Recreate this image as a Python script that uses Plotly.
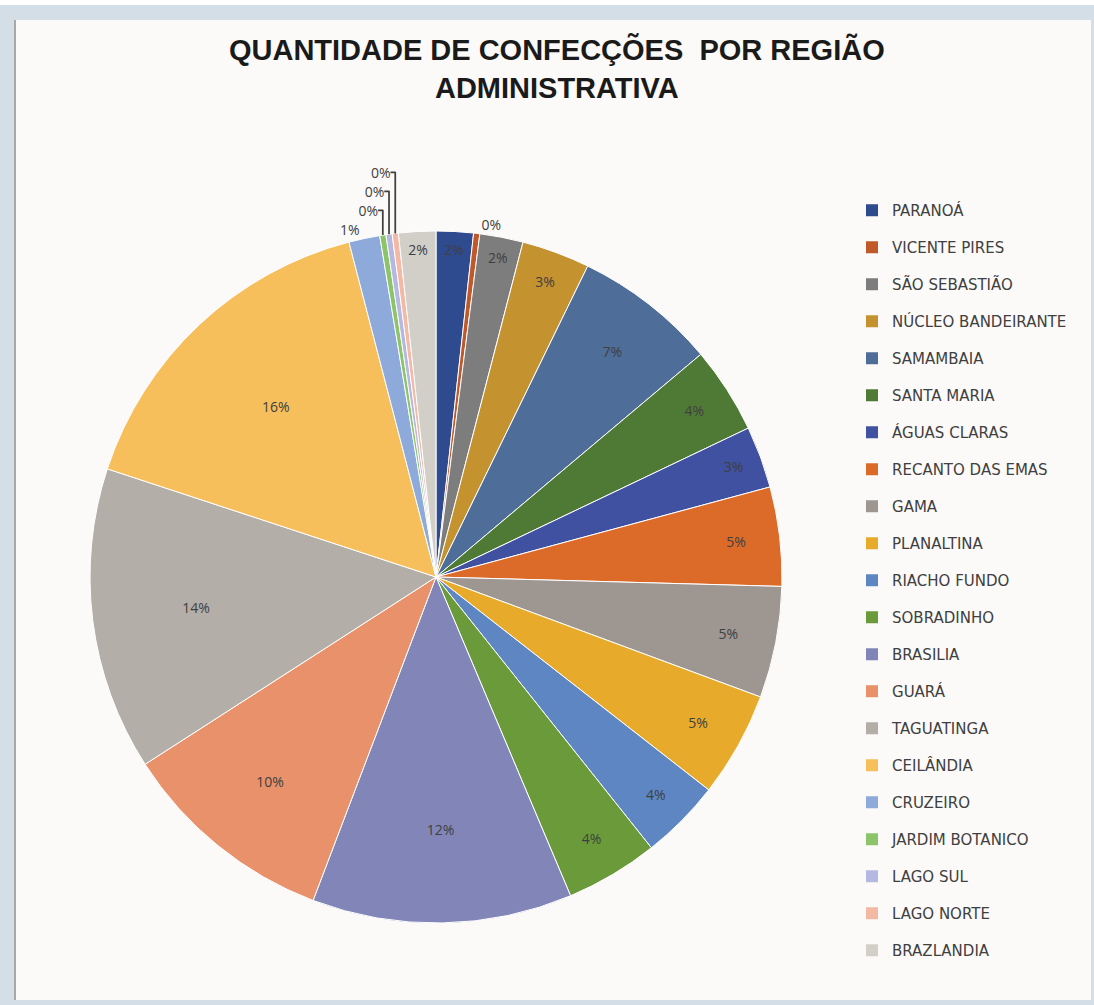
import plotly.graph_objects as go

categories = ["PARANOÁ", "VICENTE PIRES", "SÃO SEBASTIÃO", "NÚCLEO BANDEIRANTE", "SAMAMBAIA",
              "SANTA MARIA", "ÁGUAS CLARAS", "RECANTO DAS EMAS", "GAMA", "PLANALTINA",
              "RIACHO FUNDO", "SOBRADINHO", "BRASILIA", "GUARÁ", "TAGUATINGA", "CEILÂNDIA",
              "CRUZEIRO", "JARDIM BOTANICO", "LAGO SUL", "LAGO NORTE", "BRAZLANDIA"]
values = [6, 1, 7, 11, 23, 14, 10, 16, 18, 17, 13, 15, 42, 35, 49, 55, 5, 1, 1, 1, 6]
colors = ["#2F4B8F", "#C0582A", "#7D7D7D", "#C4922E", "#4E6D99", "#4E7A35", "#3F51A0",
          "#DC6B2A", "#9E9690", "#E8AA2A", "#5D86C2", "#6A9A3A", "#8285B8", "#E8916A",
          "#B4AEA8", "#F7BE5C", "#8EAADA", "#8CC46A", "#B5B8E0", "#F4B9A4", "#D2CEC8"]

W, H = 1094, 1005
total = sum(values)
positions = ["outside" if v / total < 0.016 else "inside" for v in values]

fig = go.Figure()
fig.add_trace(go.Pie(
    labels=categories, values=values, sort=False, direction="clockwise", rotation=0,
    marker=dict(colors=colors, line=dict(color="#FFFFFF", width=1)),
    texttemplate="%{percent:.0%}", textposition=positions,
    insidetextorientation="horizontal",
    textfont=dict(family="Open Sans", size=14, color="#404040"),
    outsidetextfont=dict(family="Open Sans", size=14, color="#404040"),
    domain=dict(x=[(436 - 346) / W, (436 + 346) / W], y=[1 - (577 + 346) / H, 1 - (577 - 346) / H]),
    showlegend=False, hoverinfo="label+percent",
))

for c, col in zip(categories, colors):
    fig.add_trace(go.Scatter(x=[None], y=[None], mode="markers", name=c, legendgroup=c,
                             marker=dict(symbol="square", size=12, color=col)))

band = "#D4DEE6"
fig.update_layout(
    width=W, height=H,
    margin=dict(l=0, r=0, t=0, b=0),
    paper_bgcolor=band, plot_bgcolor="rgba(0,0,0,0)",
    xaxis=dict(visible=False), yaxis=dict(visible=False),
    title=dict(text="<b>QUANTIDADE DE CONFECÇÕES  POR REGIÃO<br>ADMINISTRATIVA</b>",
               x=0.509, xanchor="center", y=0.94, yanchor="middle",
               font=dict(family="Liberation Sans", size=29, color="#1A1A1A")),
    legend=dict(x=0.7788, xanchor="left", y=1 - 194 / H, yanchor="top",
                font=dict(family="DejaVu Sans", size=15, color="#404040"),
                tracegroupgap=14.5, bgcolor="rgba(0,0,0,0)", itemwidth=30),
    shapes=[
        dict(type="rect", xref="paper", yref="paper", layer="below",
             x0=0, x1=1, y0=1 - 5 / H, y1=1, fillcolor="#FFFFFF", line=dict(width=0)),
        dict(type="rect", xref="paper", yref="paper", layer="below",
             x0=16 / W, x1=1091 / W, y0=1 - 1000 / H, y1=1 - 20 / H,
             fillcolor="#FBFAF8", line=dict(width=0)),
        dict(type="line", xref="paper", yref="paper", layer="below",
             x0=15 / W, x1=15 / W, y0=1 - 1000 / H, y1=1 - 20 / H,
             line=dict(color="#A8A8A8", width=2)),
    ],
)

fig.write_html("out.html", config={"displayModeBar": False},
               post_script="document.body.style.margin='0';")
